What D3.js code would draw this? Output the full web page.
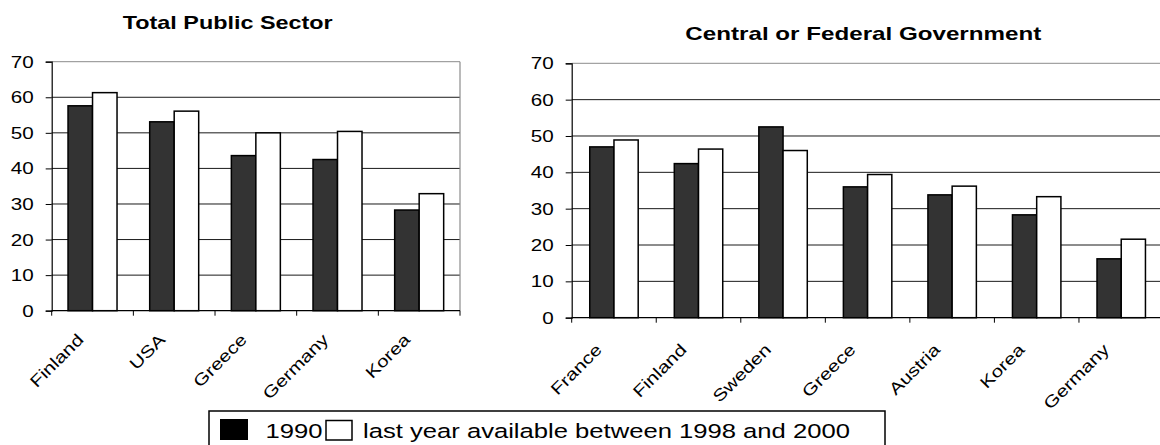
<!DOCTYPE html>
<html>
<head>
<meta charset="utf-8">
<script src="https://cdn.jsdelivr.net/npm/d3@7"></script>
<style>
  html, body { margin: 0; padding: 0; background: #fff; }
  svg { display: block; }
  text { font-family: "Liberation Sans", Arial, sans-serif; fill: #000; }
</style>
</head>
<body>
<svg id="chart" width="1160" height="445"></svg>
<script>
// ---------- data ----------
const leftTitle = "Total Public Sector";
const leftCategories = ["Finland", "USA", "Greece", "Germany", "Korea"];
const left1990 = [57.6, 53.1, 43.6, 42.5, 28.3];
const leftLast = [61.3, 56.1, 50.0, 50.4, 32.9];

const rightTitle = "Central or Federal Government";
const rightCategories = ["France", "Finland", "Sweden", "Greece", "Austria", "Korea", "Germany"];
const right1990 = [47.0, 42.4, 52.5, 36.0, 33.8, 28.3, 16.2];
const rightLast = [48.9, 46.4, 46.0, 39.4, 36.2, 33.3, 21.6];

const yTicks = [0, 10, 20, 30, 40, 50, 60, 70];
const seriesNames = ["1990", "last year available between 1998 and 2000"];
const seriesFill = ["#333333", "#ffffff"];

// ---------- drawing ----------
const SX = 1.25; // horizontal text stretch seen in the reference
const svg = d3.select("#chart");

function stretchedText(g, x, y, str, opts) {
  const tf = opts.rotate
    ? `translate(${x},${y}) rotate(${opts.rotate}) scale(${SX},1)`
    : `translate(${x},${y}) scale(${SX},1)`;
  const grp = g.append("g").attr("transform", tf);
  const t = grp.append("text")
    .attr("x", 0).attr("y", 0)
    .attr("text-anchor", opts.anchor || "start")
    .attr("font-size", opts.size)
    .attr("font-weight", opts.weight || "normal")
    .text(str);
  if (opts.dy) t.attr("dy", opts.dy);
  if (opts.length) t.attr("textLength", opts.length).attr("lengthAdjust", "spacingAndGlyphs");
  return t;
}

function drawPanel(cfg) {
  const g = svg.append("g");
  const x = d3.scaleBand().domain(cfg.categories)
    .range([cfg.x0, cfg.x1]).paddingInner(cfg.padIn).paddingOuter(cfg.padIn / 2);
  const xs = d3.scaleBand().domain([0, 1]).range([0, x.bandwidth()]).padding(0);
  const y = d3.scaleLinear().domain([0, 70]).range([cfg.yb, cfg.yt]);

  // gridlines
  g.append("g").selectAll("line").data(yTicks.filter(d => d > 0)).join("line")
    .attr("x1", cfg.x0).attr("x2", cfg.x1)
    .attr("y1", d => y(d)).attr("y2", d => y(d))
    .attr("stroke", d => d === 70 ? "#8c8c8c" : "#1a1a1a").attr("stroke-width", 1);

  // right border
  g.append("line").attr("x1", cfg.x1).attr("x2", cfg.x1)
    .attr("y1", cfg.yt).attr("y2", cfg.yb).attr("stroke", "#8c8c8c").attr("stroke-width", 1.2);

  // bars
  const rows = cfg.categories.map((c, i) => ({ c, v: [cfg.s1[i], cfg.s2[i]] }));
  const grp = g.append("g").selectAll("g").data(rows).join("g")
    .attr("transform", d => `translate(${x(d.c)},0)`);
  grp.selectAll("rect").data(d => d.v.map((v, k) => ({ v, k }))).join("rect")
    .attr("x", d => xs(d.k)).attr("width", xs.bandwidth())
    .attr("y", d => y(d.v)).attr("height", d => y(0) - y(d.v))
    .attr("fill", d => seriesFill[d.k])
    .attr("stroke", "#000").attr("stroke-width", 1.5);

  // y axis
  const yAxis = d3.axisLeft(y).tickValues(yTicks).tickSize(6).tickFormat("");
  const ya = g.append("g").attr("transform", `translate(${cfg.x0},0)`).call(yAxis);
  ya.select(".domain").attr("stroke", "#000").attr("stroke-width", 1.2);
  ya.selectAll(".tick line").attr("stroke", "#000").attr("stroke-width", 1);
  yTicks.forEach(t => {
    stretchedText(g, cfg.x0 - 18, y(t), String(t), { anchor: "end", size: 16.5, dy: "0.36em" });
  });

  // x axis (ticks at category boundaries)
  const bounds = d3.range(cfg.categories.length + 1).map(i => cfg.x0 + i * x.step());
  g.append("line").attr("x1", cfg.x0).attr("x2", cfg.x1)
    .attr("y1", cfg.yb).attr("y2", cfg.yb).attr("stroke", "#000").attr("stroke-width", 1.2);
  g.append("g").selectAll("line").data(bounds).join("line")
    .attr("x1", d => d).attr("x2", d => d)
    .attr("y1", cfg.yb).attr("y2", cfg.yb + 5).attr("stroke", "#000").attr("stroke-width", 1);

  cfg.categories.forEach(c => {
    const cx = x(c) + x.bandwidth() / 2;
    stretchedText(g, cx - cfg.lx, cfg.yb + cfg.ly, c, { anchor: "end", size: 16.5, rotate: -45 });
  });

  // title
  stretchedText(g, cfg.titleX, cfg.titleY, cfg.title,
    { anchor: "middle", size: 18.6, weight: "bold", length: cfg.titleW / SX });
}

drawPanel({
  title: leftTitle, categories: leftCategories, s1: left1990, s2: leftLast,
  x0: 51.7, x1: 460, yt: 61.7, yb: 310.7, padIn: 0.4,
  titleX: 227.7, titleY: 28.7, titleW: 210, lx: 8, ly: 30
});
drawPanel({
  title: rightTitle, categories: rightCategories, s1: right1990, s2: rightLast,
  x0: 571.7, x1: 1163.5, yt: 63.3, yb: 317.7, padIn: 0.427,
  titleX: 863.3, titleY: 40, titleW: 356, lx: 11, ly: 33
});

// legend
const lg = svg.append("g");
lg.append("rect").attr("x", 209).attr("y", 411).attr("width", 676).attr("height", 36)
  .attr("fill", "#fff").attr("stroke", "#000").attr("stroke-width", 1.5);
lg.append("rect").attr("x", 220).attr("y", 419).attr("width", 28).attr("height", 21)
  .attr("fill", "#000");
stretchedText(lg, 265.5, 437.5, seriesNames[0], { anchor: "start", size: 20.5 });
lg.append("rect").attr("x", 326).attr("y", 420.5).attr("width", 26).attr("height", 19.5)
  .attr("fill", "#fff").attr("stroke", "#000").attr("stroke-width", 1.5);
stretchedText(lg, 363, 437.5, seriesNames[1], { anchor: "start", size: 20.5 });
</script>
</body>
</html>
